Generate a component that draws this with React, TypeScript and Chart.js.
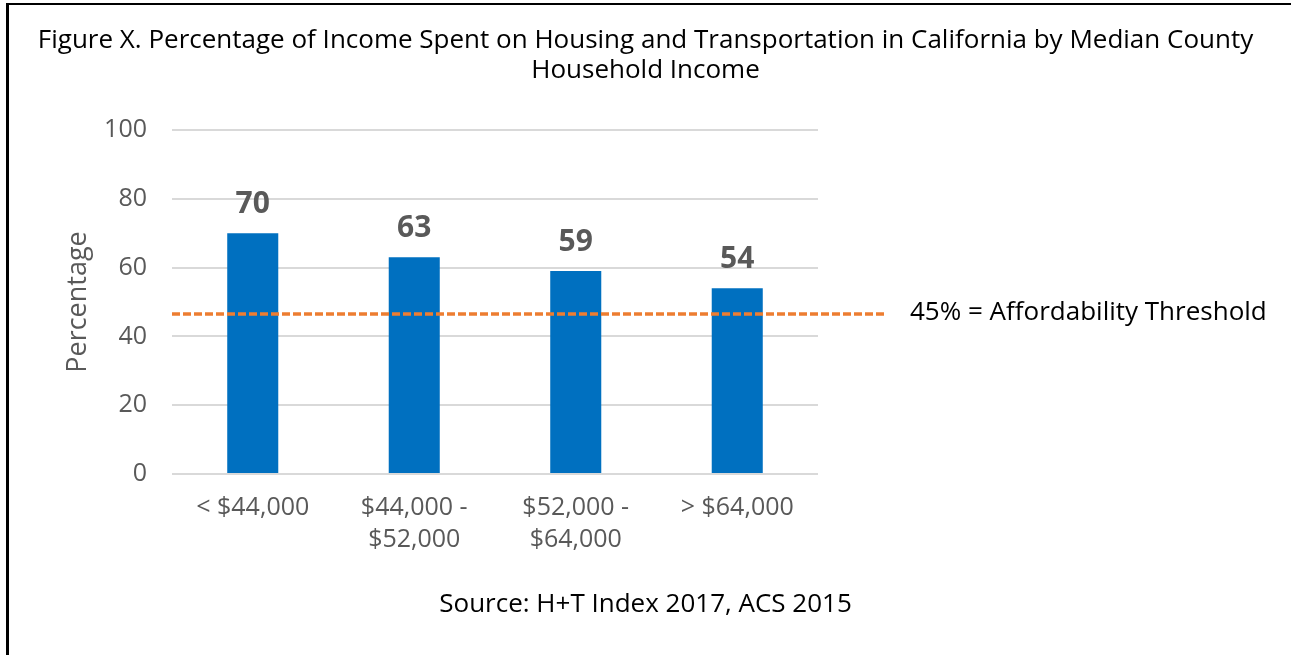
import React, { useEffect, useRef } from "react";
import { Chart, registerables } from "chart.js";

Chart.register(...registerables);

const titleLines = [
  "Figure X. Percentage of Income Spent on Housing and Transportation in California by Median County",
  "Household Income",
];
const categories = [["< $44,000"], ["$44,000 -", "$52,000"], ["$52,000 -", "$64,000"], ["> $64,000"]];
const percentages = [70, 63, 59, 54];
const thresholdValue = 46.5;
const thresholdLabel = "45% = Affordability Threshold";
const yAxisTitle = "Percentage";
const sourceText = "Source: H+T Index 2017, ACS 2015";

const FONT = "'Open Sans', Lato, sans-serif";

const overlayPlugin = {
  id: "overlay",
  afterDatasetsDraw(chart: any) {
    const ctx = chart.ctx;
    const area = chart.chartArea;
    const meta = chart.getDatasetMeta(0);
    ctx.save();
    ctx.font = `bold 30px ${FONT}`;
    ctx.fillStyle = "#595959";
    ctx.textAlign = "center";
    ctx.textBaseline = "middle";
    meta.data.forEach((bar: any, i: number) => {
      ctx.fillText(String(percentages[i]), bar.x, bar.y - 29);
    });
    const y = chart.scales.y.getPixelForValue(thresholdValue);
    ctx.strokeStyle = "#ED7D31";
    ctx.lineWidth = 3.5;
    ctx.setLineDash([8, 3]);
    ctx.beginPath();
    ctx.moveTo(area.left, y);
    ctx.lineTo(area.right + 67, y);
    ctx.stroke();
    ctx.setLineDash([]);
    ctx.font = `26px ${FONT}`;
    ctx.fillStyle = "#000000";
    ctx.textAlign = "left";
    ctx.fillText(thresholdLabel, area.right + 92, y - 1);
    ctx.restore();
  },
};

export default function App() {
  const canvasRef = useRef<HTMLCanvasElement | null>(null);

  useEffect(() => {
    if (!canvasRef.current) return;
    const chart = new Chart(canvasRef.current, {
      type: "bar",
      data: {
        labels: categories,
        datasets: [
          {
            data: percentages,
            backgroundColor: "#0070C0",
            borderWidth: 0,
            categoryPercentage: 1,
            barPercentage: 0.316,
          },
        ],
      },
      options: {
        animation: false,
        responsive: false,
        devicePixelRatio: 1,
        layout: { padding: 0 },
        plugins: {
          legend: { display: false },
          tooltip: { enabled: false },
          title: {
            display: true,
            text: titleLines,
            color: "#000000",
            font: { family: FONT, size: 26, weight: "normal", lineHeight: 1.154 },
            padding: { top: 26, bottom: 44 },
          },
          subtitle: {
            display: true,
            position: "bottom",
            text: sourceText,
            color: "#000000",
            font: { family: FONT, size: 26, weight: "normal", lineHeight: 1.2 },
            padding: { top: 25, bottom: 34.8 },
          },
        },
        scales: {
          x: {
            grid: { display: false },
            border: { display: false },
            ticks: {
              color: "#595959",
              padding: 10,
              maxRotation: 0,
              autoSkip: false,
              font: { family: FONT, size: 25, lineHeight: 1.28 },
            },
            afterFit: (s: any) => {
              s.height = 90;
            },
          },
          y: {
            min: 0,
            max: 100,
            ticks: {
              stepSize: 20,
              color: "#595959",
              padding: 25,
              font: { family: FONT, size: 25 },
            },
            grid: { color: "#D9D9D9", lineWidth: 2, drawTicks: false },
            border: { display: false },
            title: {
              display: true,
              text: yAxisTitle,
              color: "#595959",
              font: { family: FONT, size: 27, lineHeight: 1.2 },
              padding: { top: 62, bottom: 0 },
            },
            afterFit: (s: any) => {
              s.width = 172;
            },
          },
          yRight: {
            type: "linear",
            position: "right",
            display: true,
            grid: { display: false },
            border: { display: false },
            ticks: { display: false },
            afterFit: (s: any) => {
              s.width = 473;
            },
          },
        },
      },
      plugins: [overlayPlugin],
    } as any);
    return () => chart.destroy();
  }, []);

  return (
    <div style={{ position: "absolute", left: 0, top: 0, width: 1291, height: 655, background: "#ffffff", overflow: "hidden" }}>
      <canvas ref={canvasRef} width={1291} height={655} style={{ display: "block", width: 1291, height: 655 }} />
      <div
        style={{
          position: "absolute",
          left: 6,
          top: 3,
          width: 1400,
          height: 800,
          borderTop: "2.5px solid #000",
          borderLeft: "3px solid #000",
          pointerEvents: "none",
        }}
      />
    </div>
  );
}
